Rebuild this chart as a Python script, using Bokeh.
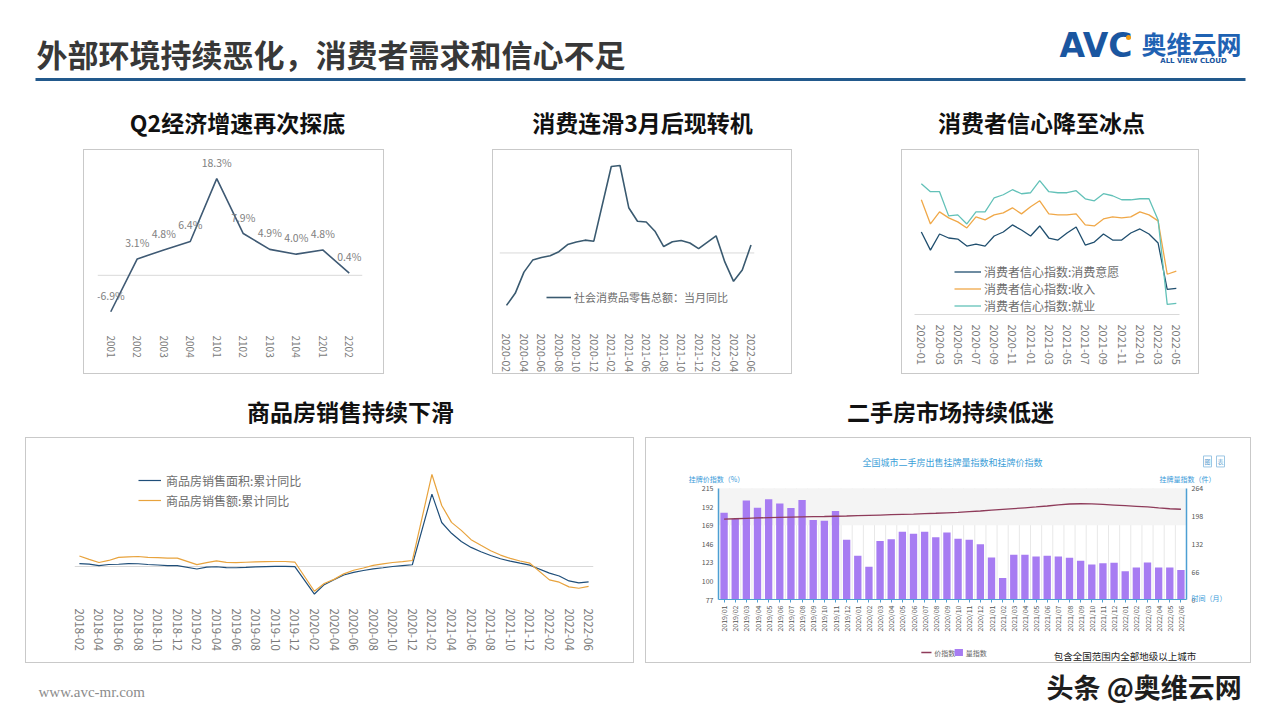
import math
from bokeh.plotting import figure
from bokeh.layouts import column, row
from bokeh.models import (Range1d, FactorRange, Span, Legend, LegendItem,
                          FixedTicker, LinearAxis, Label, BoxAnnotation, Spacer)
from bokeh.core.properties import value
from bokeh.embed import file_html
from bokeh.resources import INLINE

CJK = "Noto Sans CJK SC"

# ---------------- texts ----------------
page_title = "外部环境持续恶化，消费者需求和信心不足"
panel_titles = ["Q2经济增速再次探底", "消费连滑3月后现转机", "消费者信心降至冰点",
                "商品房销售持续下滑", "二手房市场持续低迷"]

# ---------------- chart 1: GDP growth ----------------
gdp_quarters = ["2001", "2002", "2003", "2004", "2101", "2102", "2103", "2104", "2201", "2202"]
gdp_growth = [-6.9, 3.1, 4.8, 6.4, 18.3, 7.9, 4.9, 4.0, 4.8, 0.4]

# ---------------- chart 2: retail sales yoy ----------------
retail_months = ["2020-02", "2020-03", "2020-04", "2020-05", "2020-06", "2020-07", "2020-08",
                 "2020-09", "2020-10", "2020-11", "2020-12", "2021-02", "2021-03", "2021-04",
                 "2021-05", "2021-06", "2021-07", "2021-08", "2021-09", "2021-10", "2021-11",
                 "2021-12", "2022-02", "2022-03", "2022-04", "2022-05", "2022-06"]
retail_yoy = [-20.5, -15.8, -7.5, -2.8, -1.8, -1.1, 0.5, 3.3, 4.3, 5.0, 4.6, 33.8, 34.2, 17.7,
              12.4, 12.1, 8.5, 2.5, 4.4, 4.9, 3.9, 1.7, 6.7, -3.5, -11.1, -6.7, 3.1]
retail_ticks = ["2020-02", "2020-04", "2020-06", "2020-08", "2020-10", "2020-12", "2021-02",
                "2021-04", "2021-06", "2021-08", "2021-10", "2021-12", "2022-02", "2022-04",
                "2022-06"]
retail_label = "社会消费品零售总额：当月同比"

# ---------------- chart 3: consumer confidence ----------------
conf_months = ["2020-01", "2020-02", "2020-03", "2020-04", "2020-05", "2020-06", "2020-07",
               "2020-08", "2020-09", "2020-10", "2020-11", "2020-12", "2021-01", "2021-02",
               "2021-03", "2021-04", "2021-05", "2021-06", "2021-07", "2021-08", "2021-09",
               "2021-10", "2021-11", "2021-12", "2022-01", "2022-02", "2022-03", "2022-04",
               "2022-05"]
conf_consume = [111, 102, 110, 108, 107.5, 104, 105, 104, 109, 111, 114.5, 112, 109, 114, 108,
                107, 110.5, 113.5, 104.5, 106, 110, 107, 107, 110.5, 112.5, 110, 105.5, 82.5, 83]
conf_income = [127, 115, 121, 118, 116, 113, 118.5, 117, 119.5, 120.5, 123, 120, 123.5, 126.5,
               120, 119.5, 119.5, 120, 114.5, 114, 117.5, 118.5, 118, 118.5, 121, 119.5, 116.5,
               90, 91.5]
conf_job = [135, 131, 131, 119, 119.5, 115, 121, 121, 128, 129.5, 132, 130, 130.5, 136.5, 131,
            130.5, 130.5, 131.5, 127.5, 126.5, 130, 129, 127, 127, 127.5, 127.5, 117, 75, 75.5]
conf_ticks = ["2020-01", "2020-03", "2020-05", "2020-07", "2020-09", "2020-11", "2021-01",
              "2021-03", "2021-05", "2021-07", "2021-09", "2021-11", "2022-01", "2022-03",
              "2022-05"]
conf_labels = ["消费者信心指数:消费意愿", "消费者信心指数:收入", "消费者信心指数:就业"]

# ---------------- chart 4: commercial housing sales ----------------
house_months = ["2018-02", "2018-03", "2018-04", "2018-05", "2018-06", "2018-07", "2018-08",
                "2018-09", "2018-10", "2018-11", "2018-12",
                "2019-02", "2019-03", "2019-04", "2019-05", "2019-06", "2019-07", "2019-08",
                "2019-09", "2019-10", "2019-11", "2019-12",
                "2020-02", "2020-03", "2020-04", "2020-05", "2020-06", "2020-07", "2020-08",
                "2020-09", "2020-10", "2020-11", "2020-12",
                "2021-02", "2021-03", "2021-04", "2021-05", "2021-06", "2021-07", "2021-08",
                "2021-09", "2021-10", "2021-11", "2021-12",
                "2022-02", "2022-03", "2022-04", "2022-05", "2022-06"]
house_area = [4.1, 3.6, 1.3, 2.9, 3.3, 4.2, 4.0, 2.9, 2.2, 1.4, 1.3,
              -3.6, -0.9, -0.3, -1.6, -1.8, -1.3, -0.6, -0.1, 0.1, 0.2, -0.1,
              -39.9, -26.3, -19.3, -12.3, -8.4, -5.8, -3.3, -1.8, 0.0, 1.3, 2.6,
              104.9, 63.8, 48.1, 36.3, 27.7, 21.5, 15.9, 11.3, 7.8, 4.8, 1.9,
              -9.6, -13.8, -20.9, -23.6, -22.2]
house_amount = [15.3, 10.4, 5.8, 8.8, 13.2, 14.1, 14.5, 13.3, 13.0, 12.1, 12.2,
                2.8, 5.6, 8.1, 6.1, 5.6, 6.2, 6.7, 7.1, 7.3, 7.3, 6.5,
                -35.9, -24.7, -18.6, -10.6, -5.4, -2.1, 1.6, 3.7, 5.8, 7.2, 8.7,
                133.4, 88.5, 64.0, 52.4, 38.9, 30.7, 22.8, 16.6, 11.8, 8.0, 4.8,
                -19.3, -22.7, -29.5, -31.5, -28.9]
house_ticks = ["2018-02", "2018-04", "2018-06", "2018-08", "2018-10", "2018-12", "2019-02",
               "2019-04", "2019-06", "2019-08", "2019-10", "2019-12", "2020-02", "2020-04",
               "2020-06", "2020-08", "2020-10", "2020-12", "2021-02", "2021-04", "2021-06",
               "2021-08", "2021-10", "2021-12", "2022-02", "2022-04", "2022-06"]
house_labels = ["商品房销售面积:累计同比", "商品房销售额:累计同比"]

# ---------------- chart 5: second-hand housing ----------------
sh_months = ["2019/01", "2019/02", "2019/03", "2019/04", "2019/05", "2019/06", "2019/07",
             "2019/08", "2019/09", "2019/10", "2019/11", "2019/12",
             "2020/01", "2020/02", "2020/03", "2020/04", "2020/05", "2020/06", "2020/07",
             "2020/08", "2020/09", "2020/10", "2020/11", "2020/12",
             "2021/01", "2021/02", "2021/03", "2021/04", "2021/05", "2021/06", "2021/07",
             "2021/08", "2021/09", "2021/10", "2021/11", "2021/12",
             "2022/01", "2022/02", "2022/03", "2022/04", "2022/05", "2022/06"]
sh_volume = [206, 191, 235, 218, 238, 228, 217, 236, 189, 187, 210, 142,
             104, 78, 139, 143, 161, 156, 161, 148, 159, 144, 142, 131,
             100, 51, 106, 106, 102, 104, 102, 99, 92, 83, 86, 87,
             67, 76, 88, 76, 76, 70]
sh_price = [176.7, 177.2, 177.7, 178.2, 178.6, 179.0, 179.3, 179.6, 179.8, 180.0, 180.3, 180.6,
            181.0, 181.4, 181.8, 182.2, 182.6, 183.0, 183.5, 184.0, 184.6, 185.2, 186.0, 186.8,
            187.8, 188.8, 189.8, 190.8, 191.8, 193.0, 194.5, 195.5, 195.8, 195.6, 195.0, 194.2,
            193.4, 192.6, 191.8, 190.6, 189.6, 189.0]
sh_left_ticks = [77, 100, 123, 146, 169, 192, 215]
sh_right_ticks = [0, 66, 132, 198, 264]
sh_title = "全国城市二手房出售挂牌量指数和挂牌价指数"
sh_left_name = "挂牌价指数（%）"
sh_right_name = "挂牌量指数（件）"
sh_x_name = "时间（月）"
sh_series = ["价指数", "量指数"]
sh_note = "包含全国范围内全部地级以上城市"

# ---------------- helpers ----------------
BOX = {"border": "1px solid #c9c9c9", "box-sizing": "border-box"}
GRAY = "#7a7a7a"


def month_index(s, base, sep="-"):
    y, m = (int(t) for t in s.split(sep))
    by, bm = (int(t) for t in base.split(sep))
    return (y - by) * 12 + (m - bm)


def chart(width, height, x_range, y_range, ml, mr, mt, mb, y_axis=False, box=True):
    p = figure(width=width, height=height, x_range=x_range, y_range=y_range,
               output_backend="svg", toolbar_location=None,
               min_border_left=ml, min_border_right=mr, min_border_top=mt, min_border_bottom=mb,
               y_axis_location="left" if y_axis else None, styles=BOX if box else {})
    p.outline_line_color = None
    p.background_fill_color = "white"
    p.border_fill_color = "white"
    p.xgrid.visible = False
    p.ygrid.visible = False
    return p


def quiet_axis(ax, size, standoff, color=GRAY, angle=-math.pi / 2):
    ax.major_label_orientation = angle
    ax.major_label_text_font = CJK
    ax.major_label_text_font_size = size
    ax.major_label_text_color = color
    ax.major_label_standoff = standoff
    ax.major_tick_line_color = None
    ax.minor_tick_line_color = None
    ax.major_tick_out = 0
    ax.major_tick_in = 0
    ax.minor_tick_out = 0
    ax.axis_line_color = None


def month_axis(ax, tick_pos, tick_labels, size, standoff, color=GRAY, angle=-math.pi / 2):
    ax.ticker = FixedTicker(ticks=tick_pos, minor_ticks=[])
    ax.major_label_overrides = {t: l for t, l in zip(tick_pos, tick_labels)}
    quiet_axis(ax, size, standoff, color, angle)


def legend(items, loc, row_h, glyph_w, font_size, color="#6e6e6e", standoff=4):
    return Legend(items=items, location=loc, orientation="vertical",
                  border_line_color=None, background_fill_alpha=0, padding=0, margin=0,
                  spacing=0, label_height=row_h, glyph_height=row_h,
                  glyph_width=glyph_w, label_standoff=standoff,
                  label_text_font=CJK, label_text_font_size=font_size,
                  label_text_color=color)


def deco(width, height, x0=0, y0=0):
    p = figure(width=width, height=height, x_range=Range1d(x0, x0 + width),
               y_range=Range1d(y0 + height, y0),
               output_backend="svg", toolbar_location=None, min_border=0,
               x_axis_location=None, y_axis_location=None)
    p.outline_line_color = None
    p.background_fill_color = "white"
    p.border_fill_color = "white"
    p.grid.grid_line_color = None
    return p


def put_text(p, x, y, txt, size, color, align="left", bold=False, font=CJK):
    p.text(x=[x], y=[y], text=[txt], text_font=value(font), text_font_size=size,
           text_color=color, text_align=align, text_baseline="middle",
           text_font_style="bold" if bold else "normal")


# ---------------- header ----------------
header = deco(1280, 149)
put_text(header, 36, 53, page_title, "31px", "#383838", bold=True)
header.quad(left=[35], right=[1245], top=[77.5], bottom=[80.5], fill_color="#22598c", line_color=None)
put_text(header, 1059, 45, "AVC", "33px", "#1a56a0", bold=True, font="DejaVu Sans")
header.scatter(x=[1128], y=[37], size=5, fill_color="#f39c12", line_color=None)
put_text(header, 1141, 42, "奥维云网", "25px", "#1f62b3", bold=True)
put_text(header, 1193, 60, "ALL VIEW CLOUD", "7px", "#1a56a0", align="center", bold=True,
         font="DejaVu Sans")
for cx, t in zip([237, 642, 1041], panel_titles[:3]):
    put_text(header, cx, 121, t, "23px", "#111111", align="center", bold=True)

# ---------------- chart 1 ----------------
c1 = chart(301, 225, FactorRange(*gdp_quarters, range_padding=0), Range1d(-9.5, 23.05),
           13, 23, 3, 50)
c1.add_layout(Span(location=0, dimension="width", line_color="#d9d9d9", line_width=1,
                   level="underlay"))
c1.line(gdp_quarters, gdp_growth, line_color="#3f5a74", line_width=1.6)
c1.text(x=gdp_quarters, y=gdp_growth, text=[f"{v}%" for v in gdp_growth],
        text_font=value(CJK), text_font_size="10.5px", text_color="#808080",
        text_align="center", text_baseline="bottom", y_offset=-9)
quiet_axis(c1.xaxis[0], "10px", 10)

# ---------------- chart 2 ----------------
c2 = chart(300, 225, Range1d(-0.8, 28.4), Range1d(-27.6, 38.9), 6, 39, 3, 50)
c2.add_layout(Span(location=0, dimension="width", line_color="#d9d9d9", line_width=1,
                   level="underlay"))
r2 = c2.line([month_index(m, "2020-02") for m in retail_months], retail_yoy,
             line_color="#3a5a70", line_width=1.6)
month_axis(c2.xaxis[0], [month_index(m, "2020-02") for m in retail_ticks], retail_ticks,
           "10.5px", 10)
c2.add_layout(legend([LegendItem(label=retail_label, renderers=[r2])], (47, 18), 14, 25, "11px",
                     standoff=3))

# ---------------- chart 3 ----------------
c3 = chart(298, 225, Range1d(-0.75, 28.35), Range1d(70, 148.5), 12, 21, 6, 61)
cx3 = [month_index(m, "2020-01") for m in conf_months]
r3a = c3.line(cx3, conf_consume, line_color="#1f4e6e", line_width=1.3)
r3b = c3.line(cx3, conf_income, line_color="#f0a848", line_width=1.3)
r3c = c3.line(cx3, conf_job, line_color="#62c1b8", line_width=1.3)
month_axis(c3.xaxis[0], [month_index(m, "2020-01") for m in conf_ticks], conf_ticks, "11px", 10)
c3.xaxis[0].axis_line_color = "#d9d9d9"
c3.add_layout(legend([LegendItem(label=l, renderers=[r]) for l, r in
                      zip(conf_labels, [r3a, r3b, r3c])], (40, 0), 13, 27, "12px", standoff=3))

# ---------------- mid band ----------------
mid = deco(1280, 63)
put_text(mid, 350, 36, panel_titles[3], "23px", "#111111", align="center", bold=True)
put_text(mid, 950, 36, panel_titles[4], "23px", "#111111", align="center", bold=True)

# ---------------- chart 4 ----------------
c4 = chart(609, 226, Range1d(-0.5, 52.5), Range1d(-47.8, 181.2), 48, 42, 3, 65)
c4.add_layout(Span(location=0, dimension="width", line_color="#d9d9d9", line_width=1,
                   level="underlay"))
cx4 = [month_index(m, "2018-02") for m in house_months]
r4a = c4.line(cx4, house_area, line_color="#1f4e79", line_width=1.2)
r4b = c4.line(cx4, house_amount, line_color="#e8a33d", line_width=1.2)
month_axis(c4.xaxis[0], [month_index(m, "2018-02") for m in house_ticks], house_ticks, "11.5px", 9)
c4.add_layout(legend([LegendItem(label=l, renderers=[r]) for l, r in
                      zip(house_labels, [r4a, r4b])], (64, 89), 20, 23, "12px", standoff=5))

# ---------------- chart 5 ----------------
# page-pixel geometry: frame x 670..1229, y 453..604 ; axes box x 718..1186, y 488..600
C5_TOP, C5_SPLIT = 438, 634
FL, FR, FT, FB = 670, 1229, 453, 604
AL, AR, AT, AB = 718, 1186, 488, 600
X_LO, X_HI = -0.5, len(sh_months) - 0.5
px_per_x = (AR - AL) / (X_HI - X_LO)
L_LO, L_HI = sh_left_ticks[0], sh_left_ticks[-1]
R_LO, R_HI = sh_right_ticks[0], sh_right_ticks[-1]
l_per_px = (L_HI - L_LO) / (AB - AT)
r_per_px = (R_HI - R_LO) / (AB - AT)
c5 = chart(604, C5_SPLIT - C5_TOP,
           Range1d(X_LO - (AL - FL) / px_per_x, X_HI + (FR - AR) / px_per_x),
           Range1d(L_LO - (FB - AB) * l_per_px, L_HI + (AT - FT) * l_per_px),
           FL - 646, 1250 - FR, FT - C5_TOP, C5_SPLIT - FB, y_axis=True, box=False)
c5.extra_y_ranges = {"vol": Range1d(R_LO - (FB - AB) * r_per_px, R_HI + (AT - FT) * r_per_px),
                     "ay": Range1d(FB, FT)}
c5.extra_x_ranges = {"ax": Range1d(FL, FR)}
xs5 = list(range(len(sh_months)))
c5.add_layout(BoxAnnotation(left=X_LO, right=X_HI, bottom=169, top=L_HI, fill_color="#f4f4f4",
                            fill_alpha=1, line_color=None, level="underlay"))
c5.segment(x0=[k + 0.5 for k in xs5[:-1]], y0=L_LO, x1=[k + 0.5 for k in xs5[:-1]], y1=L_HI,
           line_color="#e8e8e8", line_width=1, level="underlay")
r5b = c5.vbar(x=xs5, top=sh_volume, bottom=R_LO, width=0.66, y_range_name="vol",
              fill_color="#a77cf2", line_color=None)
r5l = c5.line(xs5, sh_price, line_color="#8e3b5a", line_width=1.3)
AXC = "#4d9fd3"
lax = c5.yaxis[0]
lax.ticker = FixedTicker(ticks=sh_left_ticks, minor_ticks=[])
lax.bounds = (L_LO, L_HI)
lax.fixed_location = X_LO
rax = LinearAxis(y_range_name="vol", ticker=FixedTicker(ticks=sh_right_ticks, minor_ticks=[]),
                 bounds=(R_LO, R_HI), fixed_location=X_HI)
c5.add_layout(rax, "right")
for a in (lax, rax):
    quiet_axis(a, "7px", 5, color="#555555", angle="horizontal")
    a.axis_line_color = AXC
    a.axis_line_width = 1.5
# tick labels of the month axis (below the frame)
xax = c5.xaxis[0]
month_axis(xax, xs5, sh_months, "7px", 2, color="#555555", angle=math.pi / 2)
# the month axis line itself, drawn at the value-axis baseline
xline = LinearAxis(fixed_location=L_LO, bounds=(X_LO, X_HI),
                   ticker=FixedTicker(ticks=xs5, minor_ticks=[]))
xline.axis_line_color = AXC
xline.axis_line_width = 1.2
xline.major_tick_line_color = AXC
xline.major_tick_in = 3
xline.major_tick_out = 0
xline.minor_tick_line_color = None
xline.major_label_text_color = None
xline.major_label_text_font_size = "1px"
xline.major_label_standoff = 0
c5.add_layout(xline, "above")


def lab(p, x, y, txt, size, color, align="center", **kw):
    p.add_layout(Label(x=x, y=y, text=txt, x_range_name="ax", y_range_name="ay",
                       text_font=CJK, text_font_size=size, text_color=color,
                       text_align=align, text_baseline="middle", **kw))


lab(c5, 952, 462, sh_title, "9px", "#3ba0d8")
lab(c5, 716, 479, sh_left_name, "7px", "#3a9ad9")
lab(c5, 1187, 479, sh_right_name, "7px", "#3a9ad9")
lab(c5, 1191, 598, sh_x_name, "7px", "#3a9ad9", align="left")
lab(c5, 1207, 461, "图", "6px", "#5a9fd0", border_line_color="#9cc6e4", padding=1,
    background_fill_color="white")
lab(c5, 1220, 461, "表", "6px", "#5a9fd0", border_line_color="#9cc6e4", padding=1,
    background_fill_color="white")

# bottom strip of chart 5: legend swatches and note
c5b = deco(604, 662 - C5_SPLIT, 646, C5_SPLIT)
c5b.segment(x0=[917], y0=[652], x1=[928], y1=[652], line_color="#8e3b5a", line_width=1.3)
put_text(c5b, 931, 652, sh_series[0], "7px", "#666666")
c5b.quad(left=[953], right=[962], top=[648.5], bottom=[655.5], fill_color="#a77cf2",
         line_color=None)
put_text(c5b, 965, 652, sh_series[1], "7px", "#666666")
put_text(c5b, 1137, 655, sh_note, "9.5px", "#222222", align="center")

# ---------------- footer ----------------
footer = deco(1280, 57)
put_text(footer, 38, 28, "www.avc-mr.com", "15px", "#8c8c8c", font="Liberation Serif")
put_text(footer, 1046, 23, "头条 @奥维云网", "27px", "#1e1e1e", bold=True)

layout = column(
    header,
    row(Spacer(width=83, height=225), column(c1), Spacer(width=108, height=225), column(c2),
        Spacer(width=109, height=225), column(c3)),
    mid,
    row(Spacer(width=25, height=226), column(c4), Spacer(width=11, height=226),
        column(c5, c5b, styles=BOX)),
    footer,
)

open("out.html", "w").write(file_html(layout, INLINE))
